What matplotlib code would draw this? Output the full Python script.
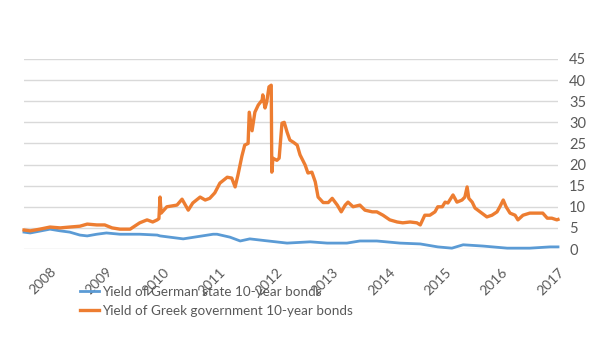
#!/usr/bin/env python3
"""Yields of German and Greek 10-year government bonds, 2008-2017."""

import matplotlib
matplotlib.use('Agg')
from matplotlib import pyplot as plt
import numpy as np


# Values (decimal year, yield in %).
GREEK_YEARS = [
    2007.54, 2007.65, 2007.82, 2008.00, 2008.18, 2008.35, 2008.53, 2008.66,
    2008.83, 2008.97, 2009.10, 2009.24, 2009.42, 2009.59, 2009.72, 2009.82,
    2009.90, 2009.93, 2009.95, 2009.97, 2010.07, 2010.25, 2010.34, 2010.45,
    2010.53, 2010.66, 2010.75, 2010.83, 2010.92, 2011.01, 2011.14, 2011.22,
    2011.28, 2011.33, 2011.40, 2011.45, 2011.51, 2011.53, 2011.58, 2011.63,
    2011.69, 2011.76, 2011.77, 2011.81, 2011.84, 2011.88, 2011.92, 2011.93,
    2011.95, 2012.02, 2012.06, 2012.11, 2012.15, 2012.20, 2012.25, 2012.31,
    2012.38, 2012.43, 2012.52, 2012.57, 2012.64, 2012.70, 2012.75, 2012.84,
    2012.93, 2013.00, 2013.09, 2013.16, 2013.23, 2013.28, 2013.37, 2013.49,
    2013.58, 2013.71, 2013.79, 2013.90, 2014.02, 2014.15, 2014.25, 2014.38,
    2014.50, 2014.56, 2014.64, 2014.73, 2014.82, 2014.87, 2014.95, 2015.00,
    2015.05, 2015.14, 2015.21, 2015.30, 2015.35, 2015.39, 2015.42, 2015.48,
    2015.53, 2015.62, 2015.74, 2015.83, 2015.92, 2015.97, 2016.03, 2016.08,
    2016.15, 2016.24, 2016.29, 2016.38, 2016.50, 2016.63, 2016.73, 2016.81,
    2016.89, 2016.98, 2017.00,
]
GREEK_YIELD = [
    4.5, 4.3, 4.7, 5.2, 5.0, 5.2, 5.4, 5.9,
    5.7, 5.7, 5.0, 4.7, 4.7, 6.2, 6.9, 6.4,
    6.9, 7.2, 12.3, 8.5, 10.0, 10.4, 11.8, 9.2,
    10.9, 12.3, 11.6, 12.0, 13.3, 15.6, 17.0, 16.8,
    14.7, 17.5, 22.0, 24.6, 25.0, 32.4, 28.0, 32.4,
    34.1, 35.3, 36.5, 33.4, 34.8, 38.4, 38.8, 18.2,
    21.5, 21.0, 21.5, 29.8, 30.0, 27.7, 25.8, 25.3,
    24.6, 22.3, 19.9, 18.0, 18.2, 15.9, 12.3, 11.0,
    11.0, 12.0, 10.4, 8.8, 10.4, 11.1, 10.0, 10.4,
    9.2, 8.8, 8.8, 8.0, 6.9, 6.4, 6.2, 6.4,
    6.2, 5.7, 8.0, 8.0, 8.8, 10.0, 10.0, 11.1,
    10.9, 12.8, 11.1, 11.6, 12.3, 14.7, 12.0, 11.1,
    9.7, 8.8, 7.6, 8.0, 8.8, 10.0, 11.6, 10.0,
    8.5, 8.0, 6.9, 8.0, 8.5, 8.5, 8.5, 7.3,
    7.3, 6.9, 7.0,
]

GERMAN_YEARS = [
    2007.54, 2007.65, 2008.00, 2008.18, 2008.35, 2008.53, 2008.66, 2008.83,
    2009.00, 2009.24, 2009.59, 2009.90, 2009.95, 2010.36, 2010.89, 2010.96,
    2011.19, 2011.37, 2011.54, 2011.80, 2012.20, 2012.61, 2012.91, 2013.26,
    2013.49, 2013.79, 2014.20, 2014.56, 2014.87, 2015.12, 2015.32, 2015.67,
    2016.10, 2016.50, 2016.86, 2017.00,
]
GERMAN_YIELD = [
    4.0, 3.8, 4.7, 4.3, 4.0, 3.3, 3.1, 3.5,
    3.8, 3.5, 3.5, 3.3, 3.1, 2.4, 3.5, 3.5,
    2.8, 1.9, 2.4, 2.0, 1.4, 1.7, 1.4, 1.4,
    1.9, 1.9, 1.4, 1.2, 0.5, 0.2, 1.0, 0.7,
    0.2, 0.2, 0.5, 0.5,
]

YEAR_TICKS = list(range(2008, 2018))
Y_TICKS = list(range(0, 50, 5))

BLUE = '#5B9BD5'
ORANGE = '#ED7D31'
GREY = '#595959'


def main():
    plt.rcParams['font.family'] = ['Lato', 'DejaVu Sans']
    fig = plt.figure(figsize=(6.0, 3.52), dpi=100)
    ax = fig.add_axes([0.04, 0.2926, 0.89, 0.5398])

    ax.plot(GERMAN_YEARS, GERMAN_YIELD, color=BLUE, lw=2.0,
            label='Yield of German state 10-year bonds', clip_on=False,
            zorder=3)
    ax.plot(GREEK_YEARS, GREEK_YIELD, color=ORANGE, lw=2.4,
            label='Yield of Greek government 10-year bonds', clip_on=False,
            zorder=3)

    ax.set_xlim(2007.54, 2017.0)
    ax.set_ylim(0, 45)
    ax.set_yticks(Y_TICKS)
    ax.set_xticks(YEAR_TICKS)
    ax.set_xticklabels([str(y) for y in YEAR_TICKS], rotation=45,
                       ha='right', va='top', rotation_mode='anchor')

    ax.yaxis.tick_right()
    ax.tick_params(axis='y', length=0, pad=8, labelsize=10.5, labelcolor=GREY)
    ax.tick_params(axis='x', length=0, pad=12, labelsize=10, labelcolor=GREY)
    ax.grid(axis='y', color='#D9D9D9', lw=1.0)
    ax.set_axisbelow(True)
    for spine in ax.spines.values():
        spine.set_visible(False)

    fig.legend(loc='upper left', bbox_to_anchor=(0.133, 0.187),
               frameon=False, fontsize=9.7, labelcolor=GREY,
               handlelength=1.4, handletextpad=0.25, labelspacing=0.5,
               borderaxespad=0, borderpad=0)

    fig.savefig('out.png', dpi=100)


if __name__ == '__main__':
    main()
